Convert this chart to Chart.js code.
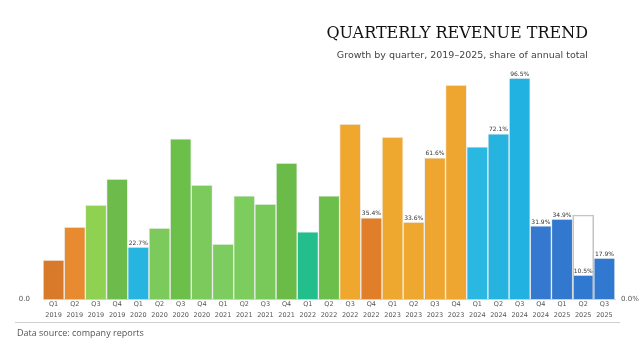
<!DOCTYPE html>
<html>
<head>
<meta charset="utf-8">
<script src="https://cdn.jsdelivr.net/npm/chart.js@4/dist/chart.umd.min.js"></script>
<style>
  html,body{margin:0;padding:0;background:#fff;}
  #wrap{position:relative;width:640px;height:360px;overflow:hidden;}
  #c{position:absolute;left:0;top:0;}
  .t{position:absolute;white-space:nowrap;}
  #title{right:52px;top:23px;font:16px "DejaVu Serif",serif;color:#111;}
  #sub{right:52px;top:49px;font:9.5px "DejaVu Sans",sans-serif;color:#444;}
  #rule{position:absolute;left:15px;top:322px;width:605px;height:0;border-top:1.5px solid #cfcfcf;}
  #foot{left:17px;top:326px;font:9px "Open Sans",sans-serif;color:#555;}
</style>
</head>
<body>
<div id="wrap">
  <canvas id="c" width="640" height="360"></canvas>
  <div class="t" id="title">QUARTERLY REVENUE TREND</div>
  <div class="t" id="sub">Growth by quarter, 2019–2025, share of annual total</div>
  <div id="rule"></div>
  <div class="t" id="foot">Data source: company reports</div>
</div>
<script>
const quarters = ["Q1","Q2","Q3","Q4","Q1","Q2","Q3","Q4","Q1","Q2","Q3","Q4","Q1","Q2","Q3","Q4","Q1","Q2","Q3","Q4","Q1","Q2","Q3","Q4","Q1","Q2","Q3"];
const years = ["2019","2019","2019","2019","2020","2020","2020","2020","2021","2021","2021","2021","2022","2022","2022","2022","2023","2023","2023","2023","2024","2024","2024","2024","2025","2025","2025"];
const revenue = [17.0,31.4,41.0,52.4,22.7,31.0,69.9,49.8,24.0,45.0,41.5,59.4,29.3,45.0,76.4,35.4,70.7,33.6,61.6,93.4,66.4,72.1,96.5,31.9,34.9,10.5,17.9];
const target = [null,null,null,null,null,null,null,null,null,null,null,null,null,null,null,null,null,null,null,null,null,null,null,null,null,36.7,null];
const barColors = ["#d97a2b","#e88b30","#8fd150","#6dbb4a","#25b5e0","#7dca5c","#6cc04a","#7cc95c","#7dcc60","#7ccc5e","#78c85a","#6abb48","#22be8c","#6dbf4c","#efa72e","#e07e29","#eea82f","#eea830","#eea630","#eea630","#2ab7e2","#27b3e0","#22b2e2","#3479cf","#3278cf","#2f7ad0","#3178d0"];
const showValue = [false,false,false,false,true,false,false,false,false,false,false,false,false,false,false,true,false,true,true,false,false,true,true,true,true,true,true];

const labels = quarters.map((q,i)=>[q, years[i]]);

const valueLabels = {
  id:'valueLabels',
  afterDatasetsDraw(chart){
    const ctx = chart.ctx;
    const meta = chart.getDatasetMeta(0);
    ctx.save();
    ctx.font = '6px "DejaVu Sans", sans-serif';
    ctx.fillStyle = '#333';
    ctx.textAlign = 'center';
    ctx.textBaseline = 'bottom';
    meta.data.forEach((bar,i)=>{
      if(!showValue[i]) return;
      ctx.fillText(revenue[i].toFixed(1)+'%', bar.x, bar.y-1);
    });
    ctx.restore();
  }
};

new Chart(document.getElementById('c'), {
  type:'bar',
  data:{
    labels: labels,
    datasets:[
      {label:'Revenue', data:revenue, backgroundColor:barColors, borderColor:'rgba(0,0,0,0.06)', borderWidth:1, barPercentage:1, categoryPercentage:1, order:2},
      {label:'Target', data:target, backgroundColor:'rgba(0,0,0,0)', borderColor:'#c4c4c4', borderWidth:1, barPercentage:1, categoryPercentage:1, grouped:false, order:1}
    ]
  },
  options:{
    responsive:false,
    animation:false,
    layout:{padding:{top:70,bottom:37,left:0,right:0}},
    plugins:{legend:{display:false}, tooltip:{enabled:false}, title:{display:false}},
    scales:{
      x:{
        grid:{display:false, drawTicks:false},
        border:{display:true,color:'#d0d0d0'},
        ticks:{font:{size:6.5,family:'"DejaVu Sans", sans-serif',lineHeight:1.7},color:'#555',padding:0,maxRotation:0,minRotation:0,autoSkip:false},
        afterFit(s){s.height=24;}
      },
      y:{
        position:'left', min:0, max:100,
        grid:{display:false, drawTicks:false}, border:{display:false},
        ticks:{stepSize:100, font:{size:7,family:'"DejaVu Sans", sans-serif'}, color:'#555',padding:13,
          callback:(v)=> v===0 ? '0.0' : ''},
        afterFit(s){s.width=43;}
      },
      y2:{
        position:'right', min:0, max:100,
        grid:{display:false, drawTicks:false}, border:{display:false},
        ticks:{stepSize:100, font:{size:7,family:'"DejaVu Sans", sans-serif'}, color:'#555',padding:6,
          callback:(v)=> v===0 ? '0.0%' : ''},
        afterFit(s){s.width=25;}
      }
    }
  },
  plugins:[valueLabels]
});
</script>
</body>
</html>
